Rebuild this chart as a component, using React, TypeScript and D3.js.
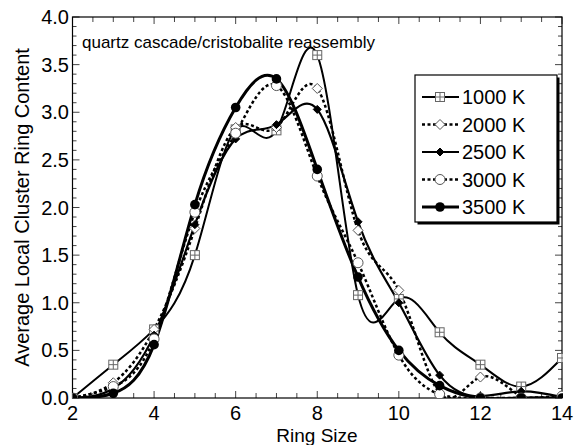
import React from "react";
import * as d3 from "d3";

const ringSizes = [2, 3, 4, 5, 6, 7, 8, 9, 10, 11, 12, 13, 14];
const seriesNames = ["1000 K", "2000 K", "2500 K", "3000 K", "3500 K"];
const v1000 = [0.0, 0.35, 0.72, 1.5, 2.82, 2.81, 3.6, 1.08, 1.04, 0.69, 0.35, 0.12, 0.42];
const v2000 = [0.0, 0.16, 0.72, 1.78, 2.84, 2.84, 3.25, 1.76, 1.13, 0.05, 0.22, 0.02, 0.02];
const v2500 = [0.0, 0.1, 0.66, 1.82, 2.72, 2.87, 3.03, 1.85, 1.0, 0.24, 0.02, 0.07, 0.01];
const v3000 = [0.0, 0.12, 0.62, 1.95, 2.78, 3.28, 2.33, 1.42, 0.45, 0.04, 0.0, 0.0, 0.02];
const v3500 = [0.0, 0.05, 0.56, 2.03, 3.05, 3.35, 2.4, 1.27, 0.5, 0.13, 0.0, 0.0, 0.0];
const xTickLabels = [2, 4, 6, 8, 10, 12, 14];
const yTickLabels = [0, 0.5, 1, 1.5, 2, 2.5, 3, 3.5, 4];

const allValues = [v1000, v2000, v2500, v3000, v3500];
const styles = [
  { width: 2.0, dash: "", marker: "square" },
  { width: 2.5, dash: "3,2.5", marker: "diamond" },
  { width: 2.2, dash: "", marker: "fdiamond" },
  { width: 2.5, dash: "3,2.5", marker: "circle" },
  { width: 3.0, dash: "", marker: "fcircle" },
];

const FONT = "'Liberation Sans', Arial, Helvetica, sans-serif";

function Marker({ type, cx, cy }: { type: string; cx: number; cy: number }) {
  if (type === "square") {
    const s = 4.5;
    return (
      <g>
        <rect x={cx - s} y={cy - s} width={2 * s} height={2 * s} fill="white" stroke="#666" strokeWidth={1} />
        <line x1={cx} x2={cx} y1={cy - s} y2={cy + s} stroke="#666" strokeWidth={1} />
        <line x1={cx - s} x2={cx + s} y1={cy} y2={cy} stroke="#666" strokeWidth={1} />
      </g>
    );
  }
  if (type === "diamond") {
    const s = 5;
    return (
      <path d={`M${cx},${cy - s}L${cx + s},${cy}L${cx},${cy + s}L${cx - s},${cy}Z`} fill="white" stroke="#555" strokeWidth={1} />
    );
  }
  if (type === "fdiamond") {
    const s = 4;
    return <path d={`M${cx},${cy - s}L${cx + s},${cy}L${cx},${cy + s}L${cx - s},${cy}Z`} fill="black" stroke="black" strokeWidth={1} />;
  }
  if (type === "circle") {
    return <circle cx={cx} cy={cy} r={5} fill="white" stroke="#555" strokeWidth={1} />;
  }
  return <circle cx={cx} cy={cy} r={4.8} fill="black" />;
}

export default function App() {
  const W = 582;
  const H = 445;
  const x = d3.scaleLinear().domain([2, 14]).range([72.5, 562]);
  const y = d3.scaleLinear().domain([0, 4]).range([398, 17]);
  const line = d3
    .line<number>()
    .x((_, i) => x(ringSizes[i]))
    .y((d) => y(d))
    .curve(d3.curveNatural);

  const xMinor = d3.range(2, 14.001, 0.5);
  const yMinor = d3.range(0, 4.001, 0.1);
  const [x0, x1] = x.range();
  const [y0, y1] = y.range();

  const legendX = 415;
  const legendY = 75;
  const legendW = 142;
  const legendH = 147;
  const rowGap = 27.5;

  return (
    <svg width={W} height={H} style={{ position: "absolute", left: 0, top: 0, background: "white" }} fontFamily={FONT}>
      <defs>
        <clipPath id="plotClip">
          <rect x={x0} y={y1 - 5} width={x1 - x0 + 1} height={y0 - y1 + 5} />
        </clipPath>
      </defs>
      <rect width={W} height={H} fill="white" />
      {xMinor.map((t) => {
        const major = Math.abs(t % 2) < 1e-6;
        const len = major ? 7 : 5;
        return (
          <g key={"xt" + t} stroke="#444" strokeWidth={1}>
            <line x1={x(t)} x2={x(t)} y1={y0} y2={y0 - len} />
            <line x1={x(t)} x2={x(t)} y1={y1} y2={y1 + len} />
          </g>
        );
      })}
      {yMinor.map((t) => {
        const major = Math.abs((t * 2) % 1) < 1e-6 || Math.abs((t * 2) % 1 - 1) < 1e-6;
        const len = major ? 7 : 4;
        return (
          <g key={"yt" + t.toFixed(1)} stroke="#444" strokeWidth={1}>
            <line x1={x0} x2={x0 + len} y1={y(t)} y2={y(t)} />
            <line x1={x1} x2={x1 - len} y1={y(t)} y2={y(t)} />
          </g>
        );
      })}
      <rect x={x0} y={y1} width={x1 - x0} height={y0 - y1} fill="none" stroke="black" strokeWidth={1.2} />
      {xTickLabels.map((t) => (
        <text key={"xl" + t} x={x(t)} y={420} textAnchor="middle" fontSize={20} fill="black">
          {t}
        </text>
      ))}
      {yTickLabels.map((t) => (
        <text key={"yl" + t} x={69} y={y(t) + 7} textAnchor="end" fontSize={20} fill="black">
          {t.toFixed(1)}
        </text>
      ))}
      <text x={317} y={442} textAnchor="middle" fontSize={19} fill="black">
        Ring Size
      </text>
      <text transform={`translate(29,${(y0 + y1) / 2}) rotate(-90)`} textAnchor="middle" fontSize={20} fill="black">
        Average Local Cluster Ring Content
      </text>
      <text x={82} y={48} fontSize={17} fill="black">
        quartz cascade/cristobalite reassembly
      </text>
      <g clipPath="url(#plotClip)">
        {allValues.map((vals, si) => (
          <path
            key={"s" + si}
            d={line(vals) || ""}
            fill="none"
            stroke="black"
            strokeWidth={styles[si].width}
            strokeDasharray={styles[si].dash || undefined}
          />
        ))}
        {allValues.map((vals, si) =>
          vals.map((v, i) => <Marker key={`m${si}-${i}`} type={styles[si].marker} cx={x(ringSizes[i])} cy={y(v)} />)
        )}
      </g>
      <rect x={legendX + 2.5} y={legendY + 2.5} width={legendW} height={legendH} fill="black" />
      <rect x={legendX} y={legendY} width={legendW} height={legendH} fill="white" stroke="black" strokeWidth={1.2} />
      {seriesNames.map((name, si) => {
        const cy = legendY + 22 + si * rowGap;
        return (
          <g key={"lg" + si}>
            <line x1={legendX + 7} x2={legendX + 44} y1={cy} y2={cy} stroke="black" strokeWidth={styles[si].width} strokeDasharray={styles[si].dash || undefined} />
            <Marker type={styles[si].marker} cx={legendX + 25} cy={cy} />
            <text x={legendX + 47} y={cy + 7} fontSize={20} fill="black">
              {name}
            </text>
          </g>
        );
      })}
    </svg>
  );
}
